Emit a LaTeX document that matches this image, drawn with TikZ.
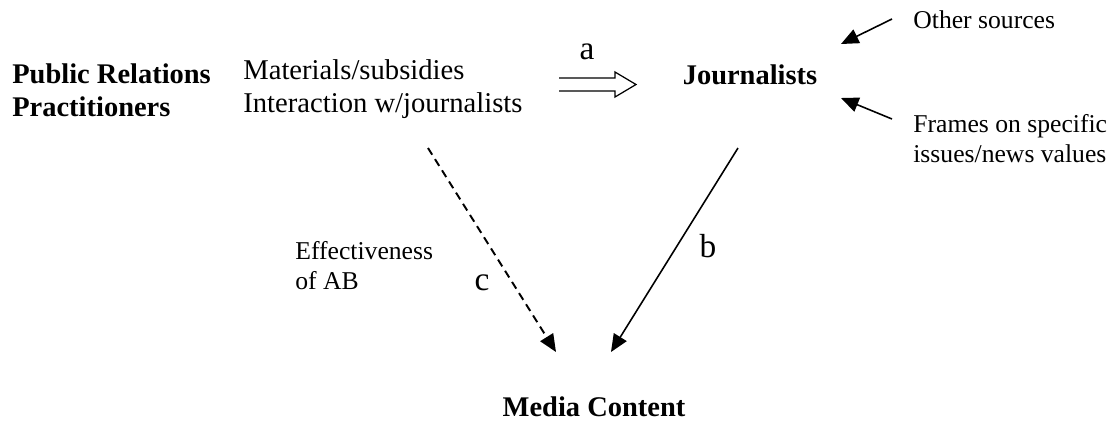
\documentclass[tikz,border=0pt]{standalone}
\usepackage{fontspec}
\setmainfont{Liberation Serif}
\usetikzlibrary{positioning,calc,arrows.meta}
\tikzset{font=\fontsize{16.3}{18.6}\selectfont}
\tikzset{
	head/.style={font=\fontsize{16.2}{18.8}\selectfont\bfseries},
	note/.style={font=\fontsize{14.6}{17}\selectfont},
	tag/.style={font=\fontsize{19}{21}\selectfont},
	arr/.style={-{Triangle[length=10pt,width=8.5pt]}, line width=0.9pt},
}

\begin{document}
\begin{tikzpicture}[x=0.02cm, y=-0.02cm]
	\useasboundingbox (0,0) rectangle (1117,424);
	\begin{scope}
		\tikzstyle{every node}=[align=left, inner sep=0pt]
		\node[head, anchor=west] (prp) at (12, 90) {Public Relations\\Practitioners};
		\node[anchor=west] (mat) at (243, 89) {Materials/subsidies\\Interaction w/journalists};
		\node[head] (jour) at (750, 75) {Journalists};
		\node[head] (media) at (594, 407) {Media Content};
		\node[note, anchor=west] (other) at (913, 20) {Other sources};
		\node[note, anchor=west] (frames) at (913, 139) {Frames on specific\\issues/news values};
		\node[note, anchor=west] (eff) at (295, 266) {Effectiveness\\of AB};
		\node[tag] (la) at (587, 52) {a};
		\node[tag] (lb) at (708, 246) {b};
		\node[tag] (lc) at (482, 283) {c};

		% connector ends
		\coordinate (aL) at (559, 84.5);
		\coordinate (aR) at (636, 84.5);
		\coordinate (cS) at (428, 148);
		\coordinate (cE) at (556, 352);
		\coordinate (bS) at (738, 148);
		\coordinate (bE) at (611, 352);
		\coordinate (oS) at (892, 19);
		\coordinate (oE) at (841, 44);
		\coordinate (fS) at (892, 119);
		\coordinate (fE) at (841, 98);

		\draw[line width=0.7pt] ($(aL)+(0,-6.5)$) -- ($(aR)+(-21,-6.5)$) -- ($(aR)+(-21,-12.5)$)
			-- (aR) -- ($(aR)+(-21,12.5)$) -- ($(aR)+(-21,6.5)$) -- ($(aL)+(0,6.5)$);
		\draw[arr, line width=1.1pt, dash pattern=on 4.5pt off 3pt] (cS) -- (cE);
		\draw[arr] (bS) -- (bE);
		\draw[arr] (oS) -- (oE);
		\draw[arr] (fS) -- (fE);
	\end{scope}
\end{tikzpicture}
\end{document}
